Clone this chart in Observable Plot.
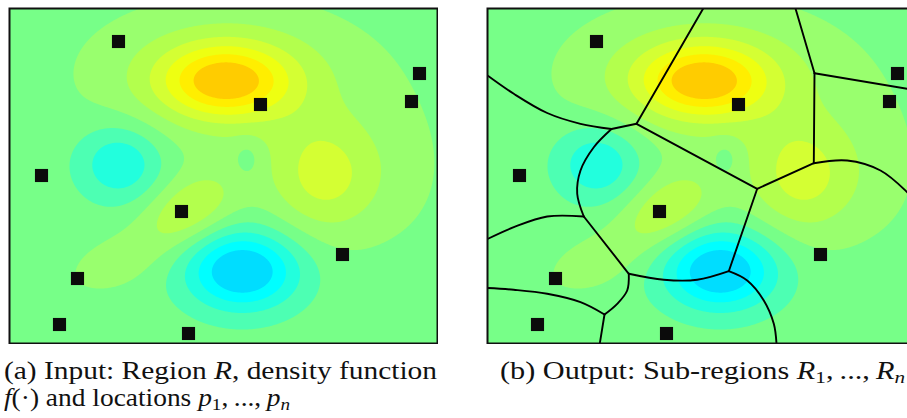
<!DOCTYPE html>
<html>
<head>
<meta charset="utf-8">
<script src="https://cdn.jsdelivr.net/npm/d3@7"></script>
<script src="https://cdn.jsdelivr.net/npm/@observablehq/plot@0.6"></script>
<style>
  html, body { margin: 0; padding: 0; background: #fff; overflow: hidden; }
  #wrap { position: relative; width: 907px; height: 418px; overflow: hidden; }
  .panel { position: absolute; top: 7px; width: 430px; height: 337px; }
  .panel svg { max-width: none !important; display: block; }
  .cap { position: absolute; font-family: "Liberation Serif", serif; font-size: 25px; color: #111;
         white-space: nowrap; line-height: 1; transform-origin: 0 0; }
  .cap i { font-style: italic; }
  .cap sub { font-size: 0.7em; vertical-align: -0.25em; line-height: 0; }
</style>
</head>
<body>
<div id="wrap">
  <div id="pa" class="panel" style="left:8px"></div>
  <div id="pb" class="panel" style="left:486px"></div>
  <div class="cap" id="l1" data-x0="4" data-x1="437" style="left:4px; top:358px;">(a) Input: Region <i>R</i>, density function</div>
  <div class="cap" id="l2" data-x0="4" data-x1="290" style="left:4px; top:385px;"><i>f</i>(·) and locations <i>p</i><sub>1</sub>,&#8201;...,&#8201;<i>p</i><sub><i>n</i></sub></div>
  <div class="cap" id="l3" data-x0="500" data-x1="905" style="left:500px; top:358px;">(b) Output: Sub-regions <i>R</i><sub>1</sub>,&#8201;...,&#8201;<i>R</i><sub><i>n</i></sub></div>
</div>
<script>
// ---- locations p1..pn (panel pixel coordinates) ----
const pointX = [118, 419, 411, 260, 41, 181, 342, 77, 59, 188];
const pointY = [41, 73, 101, 104, 175, 211, 254, 278, 324, 333];

// ---- density function f: sum of Gaussian bumps ----
const bumpX     = [280, 225, 225, 323, 188, 242, 120, 247, 118, 395];
const bumpY     = [150,  81,  72, 176, 210, 270, 163, 158, 262, 170];
const bumpAmp   = [0.4, 4.5, 2.0, 2.5, 2.3, -4.9, -2.6, -0.9, 0.9, 0.5];
const bumpSX    = [110,  44,  88,  37,  34,  40,  30,  10,  40,  40];
const bumpSY    = [ 80,  25,  45,  40,  22,  28,  27,  14,  20,  55];
const bumpAngle = [  0,   0,   0,   0, -30,   0,   0,   0, -20,   0];

// ---- contour levels and colours ----
const levels = [-3.5, -2.5, -1.5, -0.5, 0.5, 1.5, 2.5, 3.5, 4.5, 5.5];
const levelColors = ["#00DDFF", "#00FFFF", "#22FFDD", "#4DFFB3", "#77FF88", "#99FF6E",
                     "#B3FF4D", "#D4FF33", "#EEFF11", "#FFEE00", "#FFCC00"];

// ---- sub-region boundaries (panel b) ----
const edges = [
  [[224.7,8],[158,123.3]],
  [[158,123.3],[133,128.5]],
  [[133,128.5],[102,123.3],[68.7,112.5],[35.3,93.3],[9,75]],
  [[158,123.3],[278.7,188.3]],
  [[133,128.5],[115.3,146.7],[102,170],[98.7,193.3],[105.3,216]],
  [[105.3,216],[68.7,216],[35.3,226.7],[9,238.5]],
  [[105.3,216],[150.3,273.3]],
  [[150.3,273.3],[185.3,279.3],[218.7,279.3],[250.3,270.7]],
  [[250.3,270.7],[278.7,188.3]],
  [[278.7,188.3],[335.3,162.7]],
  [[335.3,162.7],[336,72.7]],
  [[336,72.7],[317,8]],
  [[336,72.7],[437,89.7]],
  [[335.3,162.7],[368.7,160],[402,170],[428.7,191.7],[437,201]],
  [[150.3,273.3],[148.7,290],[138.7,303.3],[126,314]],
  [[126,314],[102,301.7],[68.7,293.3],[35.3,289.3],[9,287.5]],
  [[126,314],[121.3,343]],
  [[250.3,270.7],[268.7,280],[285.3,300],[295.3,323.3],[298,343]]
];

const X0 = 9, X1 = 437, Y0 = 8, Y1 = 343;

function density(x, y) {
  let s = 0;
  for (let i = 0; i < bumpX.length; ++i) {
    const a = bumpAngle[i] * Math.PI / 180;
    const dx = x - bumpX[i], dy = y - bumpY[i];
    const u = dx * Math.cos(a) + dy * Math.sin(a);
    const v = -dx * Math.sin(a) + dy * Math.cos(a);
    s += bumpAmp[i] * Math.exp(-(u * u) / (2 * bumpSX[i] ** 2) - (v * v) / (2 * bumpSY[i] ** 2));
  }
  return s;
}

const points = pointX.map((x, i) => ({x, y: pointY[i]}));
const edgeRows = edges.flatMap((pts, k) => pts.map(([x, y]) => ({x, y, edge: k})));

function panel(withEdges) {
  const marks = [
    Plot.contour({
      x1: X0, x2: X1, y1: Y0, y2: Y1,
      value: density,
      thresholds: [-100, ...levels],
      fill: "value",
      stroke: "none",
      pixelSize: 1
    })
  ];
  if (withEdges) {
    marks.push(Plot.line(edgeRows, {x: "x", y: "y", z: "edge", curve: "catmull-rom",
      stroke: "#000", strokeWidth: 1.9, clip: true}));
  }
  marks.push(Plot.dot(points, {x: "x", y: "y", symbol: "square", r: 7.4, fill: "#0b0b0b", stroke: "none"}));
  marks.push(Plot.frame({stroke: "#111", strokeWidth: 2}));
  return Plot.plot({
    width: 430, height: 337,
    margin: 1,
    x: {domain: [X0, X1], axis: null},
    y: {domain: [Y1, Y0], axis: null},
    color: {type: "threshold", domain: levels, range: levelColors},
    marks
  });
}

document.getElementById("pa").appendChild(panel(false));
document.getElementById("pb").appendChild(panel(true));

// stretch caption lines horizontally to the widths they occupy in the figure
for (const el of document.querySelectorAll(".cap")) {
  const target = +el.dataset.x1 - +el.dataset.x0;
  const w = el.getBoundingClientRect().width;
  el.style.transform = `scaleX(${target / w})`;
}
</script>
</body>
</html>
